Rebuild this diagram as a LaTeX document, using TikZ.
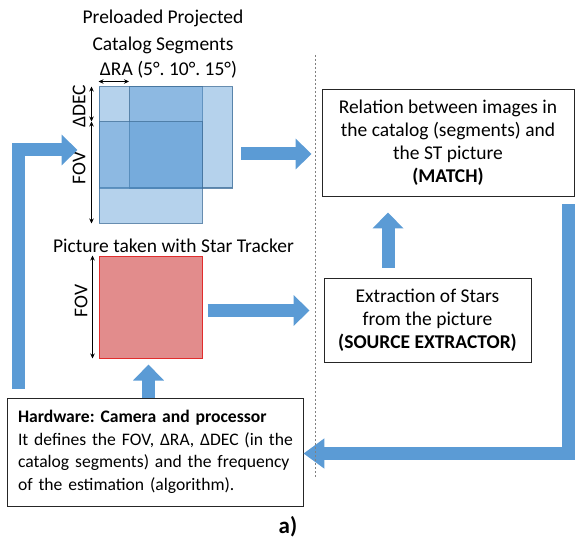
\documentclass[tikz,border=0pt]{standalone}
\usepackage{fontspec}
\setmainfont{Carlito}
\usetikzlibrary{arrows.meta}
\definecolor{arrowblue}{RGB}{91,155,213}
\definecolor{segblue}{RGB}{91,155,213}
\definecolor{segline}{RGB}{65,113,156}
\definecolor{camfill}{RGB}{226,140,140}
\definecolor{camline}{RGB}{225,45,45}
\frenchspacing
\begin{document}
\frenchspacing
\begin{tikzpicture}[x=1pt,y=-1pt,
  font=\fontsize{19.5}{23}\selectfont,
  seg/.style={draw=segline, draw opacity=0.8, fill=segblue, fill opacity=0.45,
    minimum width=103pt, minimum height=101pt, inner sep=0pt, line width=1pt},
  box/.style={draw=black!85, line width=0.9pt, fill=white, align=center, inner sep=0pt},
  barrow/.style={draw=arrowblue, line width=13pt, line join=miter,
    -{Triangle[width=30pt,length=16pt]}},
  dimarrow/.style={{Stealth[length=5pt,width=4.5pt]}-{Stealth[length=5pt,width=4.5pt]}, line width=0.8pt},
  sep/.style={draw=gray, line width=1pt, dash pattern=on 2pt off 2pt}
]
\useasboundingbox (0,0) rectangle (575,540);

% catalog segments
\node[seg] (r1) at (150.5,137.5) {};
\node[seg] (r2) at (181,137.5) {};
\node[seg] (r3) at (150.5,172.5) {};

\node[align=center, font=\fontsize{19.5}{27}\selectfont] (title) at (163,31.5) {Preloaded Projected\\Catalog Segments};
\node (dra) at (168.5,70) {ΔRA (5°. 10°. 15°)};

\draw[dimarrow] ([yshift=5pt]r1.north west) -- ([yshift=5pt]r2.north west);
\draw[dimarrow] ([xshift=-7pt]r1.north west) -- ([xshift=-7pt]r3.north west);
\draw[dimarrow] ([xshift=-7pt]r3.north west) -- ([xshift=-7pt]r3.south west);
\node[rotate=90] (ldec) at (79,106) {ΔDEC};
\node[rotate=90] (lfov1) at (79,168) {FOV};

% camera picture
\node (ptitle) at (173.5,246) {Picture taken with Star Tracker};
\node[draw=camline, fill=camfill, line width=1pt, minimum width=103pt, minimum height=102pt, inner sep=0pt] (cam) at (150.5,307) {};
\draw[dimarrow] ([xshift=-6pt]cam.north west) -- ([xshift=-6pt]cam.south west);
\node[rotate=90] (lfov2) at (81,301) {FOV};

% boxes
\node[box, minimum width=252pt, minimum height=107pt] (match) at (448,142.5)
  {Relation between images in\\the catalog (segments) and\\the ST picture\\\textbf{(MATCH)}};
\node[box, minimum width=207pt, minimum height=84pt] (src) at (427.5,320)
  {Extraction of Stars\\from the picture\\\textbf{(SOURCE EXTRACTOR)}};
\node[box, minimum width=296pt, minimum height=108pt, align=left, text width=274pt, inner xsep=11pt,
  font=\fontsize{17.6}{22.5}\selectfont] (hw) at (155,452)
  {\mbox{\textbf{Hardware: Camera and processor}}\\\mbox{It defines the FOV, ΔRA, ΔDEC (in the}\\\mbox{catalog segments) and the frequency}\\\mbox{of the estimation (algorithm).}};

\node[font=\fontsize{23}{26}\selectfont\bfseries] (lbl) at (288,527) {a)};

% block arrows
\coordinate (lefttip) at ([xshift=-21pt,yshift=-12.5pt]r1.west);
\draw[barrow] ([xshift=11.5pt,yshift=9pt]hw.north west) |- (lefttip);

\coordinate (a2s) at ([xshift=8pt,yshift=-16.5pt]r2.east);
\coordinate (mtip) at ([xshift=-10pt]match.west);
\draw[barrow] (a2s) -- (a2s -| mtip);

\coordinate (c3s) at ([xshift=5pt,yshift=-3.5pt]cam.east);
\coordinate (c3e) at ([xshift=-14pt]src.west);
\draw[barrow] (c3s) -- (c3s -| c3e);

\draw[barrow] ([xshift=-6.5pt]hw.north) -- ([xshift=-2pt,yshift=-6pt]cam.south);
\draw[barrow] ([xshift=-39.5pt,yshift=10pt]src.north) -- ([xshift=-60pt,yshift=-16pt]match.south);
\draw[barrow, -{Triangle[width=29pt,length=21pt]}] ([xshift=-5.5pt,yshift=-8pt]match.south east) |- ([yshift=-1.5pt]hw.east);

% separator
\coordinate (septop) at (315,55);
\coordinate (sepbot) at (315,478);
\draw[sep] (septop) -- (sepbot);
\end{tikzpicture}
\end{document}
